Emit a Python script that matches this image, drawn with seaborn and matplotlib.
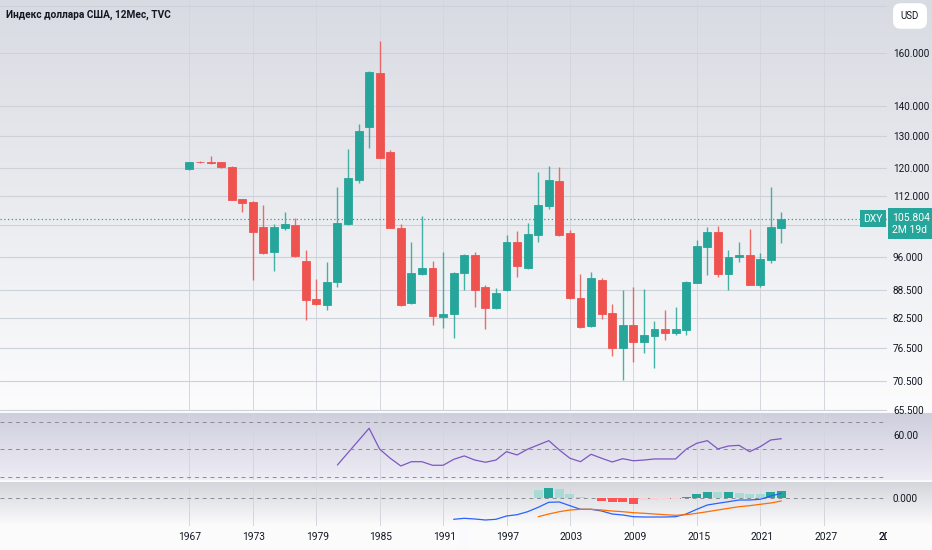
import numpy as np
import matplotlib
matplotlib.use("Agg")
import matplotlib.pyplot as plt
import matplotlib.transforms as mtransforms
from matplotlib.ticker import NullLocator
import seaborn as sns

# yearly candles of the US dollar index (DXY), 1967 - 2023
years = list(range(1967, 2024))
opens = [119.7, 122.0, 122.0, 121.8, 120.4, 111.1, 110.2, 103.5, 97.4, 103.3,
         104.0, 95.2, 86.5, 85.2, 90.3, 104.4, 116.6, 132.9, 152.1, 124.8,
         103.3, 85.7, 92.1, 93.4, 82.8, 83.3, 92.3, 96.7, 89.1, 84.5,
         88.4, 99.9, 93.6, 101.6, 109.3, 116.3, 102.1, 86.7, 80.9, 90.7,
         83.5, 76.5, 81.1, 77.7, 78.9, 80.2, 79.5, 80.1, 90.1, 98.6,
         102.2, 92.1, 96.1, 96.7, 89.6, 95.4, 103.4]
highs = [122.0, 122.2, 123.7, 122.0, 120.6, 111.2, 110.5, 109.5, 104.5, 107.6,
         105.9, 97.8, 90.9, 94.8, 114.5, 125.8, 133.9, 153.0, 164.7, 125.7,
         104.4, 99.8, 106.4, 95.2, 97.4, 92.5, 96.9, 97.3, 89.6, 89.0,
         101.5, 102.5, 104.7, 118.8, 120.8, 120.4, 102.9, 92.1, 92.5, 91.2,
         85.4, 88.5, 89.2, 88.7, 81.8, 84.2, 84.9, 90.4, 100.4, 103.7,
         103.9, 97.7, 99.8, 103.0, 97.0, 114.6, 107.5]
lows = [119.5, 121.6, 121.2, 120.2, 110.8, 107.6, 90.7, 96.8, 92.8, 102.9,
        96.1, 82.1, 85.3, 84.2, 89.1, 104.2, 115.5, 126.3, 123.0, 103.3,
        85.0, 85.5, 91.9, 81.1, 80.4, 78.4, 88.5, 84.9, 80.3, 84.3,
        88.2, 91.5, 93.2, 99.8, 108.3, 101.4, 86.6, 80.5, 80.7, 82.4,
        75.1, 70.7, 74.0, 75.6, 72.8, 78.1, 79.0, 79.0, 90.0, 91.9,
        91.4, 88.4, 95.0, 89.5, 89.1, 94.6, 99.6]
closes = [121.8, 121.8, 121.6, 120.4, 110.9, 109.9, 102.2, 97.0, 103.5, 104.4,
          96.3, 86.3, 85.5, 90.2, 104.7, 117.1, 131.8, 152.6, 123.2, 103.4,
          85.2, 92.3, 93.6, 83.0, 83.3, 92.3, 96.7, 88.6, 84.7, 87.9,
          99.7, 94.0, 101.9, 109.4, 116.5, 101.6, 86.8, 80.7, 91.1, 83.4,
          76.5, 81.1, 77.7, 79.0, 80.2, 79.5, 80.2, 90.3, 98.8, 102.2,
          92.0, 96.2, 96.7, 89.7, 95.6, 103.6, 105.804]
last_price = 105.804

# RSI(14)
rsi_years = list(range(1981, 2024))
rsi = [38.5, 47.4, 56.3, 65.2, 50.0, 43.4, 37.8, 40.9, 40.9, 38.3,
       38.3, 42.6, 45.1, 42.1, 40.5, 42.1, 48.2, 45.8, 50.0, 53.1,
       56.2, 49.4, 43.4, 40.9, 46.3, 43.4, 40.7, 43.1, 41.6, 42.1,
       42.9, 42.9, 42.9, 50.0, 54.3, 56.2, 50.2, 52.3, 52.8, 48.2,
       51.8, 56.7, 57.6]

# MACD (12, 26, 9)
macd_years = list(range(1992, 2024))
macd = [-21.0, -20.0, -20.7, -21.7, -21.0, -17.7, -16.4, -13.4, -9.0, -4.0,
        -3.7, -7.4, -11.0, -11.0, -12.7, -15.7, -16.7, -18.4, -18.7, -18.7,
        -18.7, -18.4, -15.7, -11.0, -6.7, -5.0, -3.4, -1.7, -1.7, -1.0,
        2.3, 5.0]
signal_years = list(range(2000, 2024))
signal = [-18.4, -15.7, -13.4, -11.7, -11.0, -11.0, -11.7, -12.7, -13.4, -14.4,
          -15.0, -15.7, -16.4, -17.0, -16.4, -15.0, -13.4, -11.7, -10.0, -8.4,
          -7.4, -6.0, -4.7, -2.7]
hist = [8.3, 10.7, 9.0, 4.3, 1.0, 0.3, -2.3, -4.0, -4.1, -5.3,
        -1.7, -1.3, -1.0, -0.7, 1.0, 4.3, 6.7, 6.5, 6.8, 5.7,
        4.3, 4.0, 6.7, 7.7]

price_ticks = [65.5, 70.5, 76.5, 82.5, 88.5, 96, 104, 112, 120, 130, 140, 160, 180]
hidden_ticks = [104, 180]   # covered by the price label / USD button
year_ticks = list(range(1967, 2034, 6))

UP = '#26a69a'
DOWN = '#ef5350'
TXT = '#131722'
GRID = '#d3d6dd'

W, H = 932, 550
sns.set_theme(style="white")
plt.rcParams['font.family'] = ['Roboto', 'DejaVu Sans']

fig = plt.figure(figsize=(W / 100, H / 100), dpi=100)


def px_axes(x0, y0, x1, y1):
    a = fig.add_axes([x0 / W, 1 - y1 / H, (x1 - x0) / W, (y1 - y0) / H])
    a.set_facecolor('none')
    for s in a.spines.values():
        s.set_visible(False)
    return a


# background gradients of the panes
def grad(c0, c1, n):
    return np.linspace(np.array(c0) / 255, np.array(c1) / 255, n)


img = np.vstack([
    grad((216, 219, 226), (252, 252, 253), 411),
    grad((250, 250, 252), (250, 250, 252), 2),
    grad((207, 206, 221), (238, 237, 245), 67),
    grad((250, 250, 252), (250, 250, 252), 2),
    grad((213, 214, 220), (251, 251, 252), 44),
    grad((251, 251, 252), (251, 251, 252), 24),
])[:, None, :]
bg = px_axes(0, 0, W, H)
bg.imshow(img, aspect='auto', extent=(0, 1, 0, 1), interpolation='bilinear')
bg.set_axis_off()

xlim = (1967 - 190 / 10.6, 1967 + 697 / 10.6)

# main price pane
ax = px_axes(0, 0, 887, 411)
ax.set_yscale('log')
ax.set_ylim(65.4, 182.7)
ax.set_xlim(*xlim)
ax.set_yticks(price_ticks)
ax.yaxis.set_minor_locator(NullLocator())
ax.set_yticklabels(['' if t in hidden_ticks else f'{t:.3f}' for t in price_ticks])
ax.yaxis.tick_right()
ax.tick_params(axis='y', length=0, pad=4.3, labelsize=7.2, labelcolor=TXT)
ax.set_xticks(year_ticks)
ax.tick_params(axis='x', length=0, labelbottom=False)
ax.grid(True, axis='y', color='#cdd1d9', lw=0.8)
ax.grid(True, axis='x', color=GRID, lw=0.7)
ax.set_axisbelow(True)

colors = [UP if c >= o else DOWN for o, c in zip(opens, closes)]
bottoms = [min(o, c) for o, c in zip(opens, closes)]
heights = [abs(c - o) for o, c in zip(opens, closes)]
ax.vlines(years, lows, highs, colors=colors, lw=1, alpha=0.85, zorder=2)
ax.bar(years, heights, bottom=bottoms, width=0.75, color=colors,
       edgecolor=colors, lw=0.6, zorder=3)
ax.axhline(last_price, color=UP, ls=(0, (1, 2)), lw=0.9, zorder=1)

blend = mtransforms.blended_transform_factory(ax.transAxes, ax.transData)
ax.text(883 / 887, last_price, 'DXY', transform=blend, ha='right', va='center',
        color='white', fontsize=7.5, clip_on=False, zorder=5,
        bbox=dict(boxstyle='square,pad=0.3', fc=UP, ec='none'))
ax.annotate('105.804\n2M 19d', xy=(892 / 887, last_price), xycoords=blend,
            xytext=(0, 6), textcoords='offset pixels', ha='left', va='top',
            color='white', fontsize=7.5, linespacing=1.25, annotation_clip=False,
            zorder=5, bbox=dict(boxstyle='square,pad=0.4', fc=UP, ec='none'))

# RSI pane
ax_rsi = px_axes(0, 413, 887, 480)
sns.lineplot(x=rsi_years, y=rsi, ax=ax_rsi, color='#7e57c2', lw=0.9)
ax_rsi.set(xlabel='', ylabel='')
ax_rsi.set_xlim(*xlim)
ax_rsi.set_ylim(27.6, 76.3)
for lvl in (70, 50, 30):
    ax_rsi.axhline(lvl, color='#8a8d96', ls=(0, (4, 4)), lw=0.7)
ax_rsi.set_yticks([60])
ax_rsi.set_yticklabels(['60.00'])
ax_rsi.yaxis.tick_right()
ax_rsi.tick_params(axis='y', length=0, pad=4.3, labelsize=7.2, labelcolor=TXT)
ax_rsi.set_xticks(year_ticks)
ax_rsi.tick_params(axis='x', length=0, labelbottom=False)
ax_rsi.grid(True, axis='x', color=GRID, lw=0.7)

# MACD pane
ax_m = px_axes(0, 482, 887, 526)
hist_colors = []
for i, v in enumerate(hist):
    prev = hist[i - 1] if i > 0 else None
    if v >= 0:
        hist_colors.append('#26a69a' if prev is not None and v > prev else '#a8dbd5')
    else:
        hist_colors.append('#ff5252' if prev is not None and v < prev else '#ffcdd2')
ax_m.bar(signal_years, hist, width=0.85, color=hist_colors, edgecolor='none',
         lw=0, zorder=2)
sns.lineplot(x=macd_years, y=macd, ax=ax_m, color='#2962ff', lw=0.9)
sns.lineplot(x=signal_years, y=signal, ax=ax_m, color='#ff6d00', lw=0.9)
ax_m.set(xlabel='', ylabel='')
ax_m.set_xlim(*xlim)
ax_m.set_ylim(-27.7, 16.3)
ax_m.axhline(0, color='#8a8d96', ls=(0, (4, 4)), lw=0.7, zorder=1)
ax_m.set_yticks([0])
ax_m.set_yticklabels(['0.000'])
ax_m.yaxis.tick_right()
ax_m.tick_params(axis='y', length=0, pad=4.3, labelsize=7.2, labelcolor=TXT)
ax_m.set_xticks(year_ticks)
ax_m.tick_params(axis='x', length=0, labelbottom=False)
ax_m.grid(True, axis='x', color=GRID, lw=0.7)

# time axis
ax_t = px_axes(0, 526, 887, 550)
ax_t.set_xlim(*xlim)
ax_t.set_ylim(0, 1)
ax_t.set_xticks([])
ax_t.set_yticks([])
for y in year_ticks + [2033]:
    ax_t.text(y, 0.54, str(y), ha='center', va='center', fontsize=7.4,
              color=TXT, clip_on=True)

fig.text(6 / W, 1 - 15 / H, 'Индекс доллара США, 12Мес, TVC', fontsize=7.3,
         weight='bold', color=TXT, va='center', ha='left')
fig.text(910 / W, 1 - 16 / H, 'USD', fontsize=7, color=TXT, ha='center', va='center',
         bbox=dict(boxstyle='round,pad=0.8', fc='white', ec='none'))

fig.savefig('out.png', dpi=100)
